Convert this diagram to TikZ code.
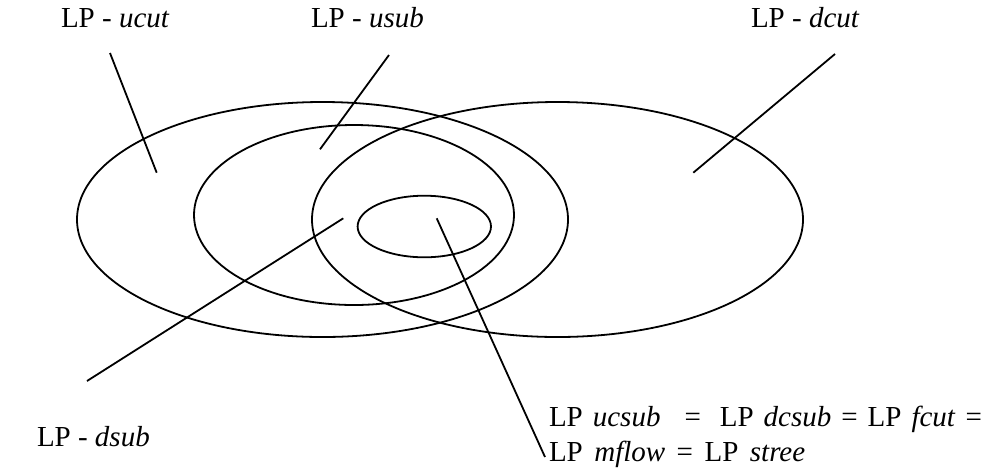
\documentclass[tikz,border=0pt]{standalone}
\usepackage{fontspec}
\setmainfont{Liberation Serif}
\begin{document}
\begin{tikzpicture}[x=1pt,y=-1pt,
  lbl/.style={font=\fontsize{29}{37}\selectfont, anchor=base west, inner sep=0pt, outer sep=0pt},
  ring/.style={draw=black, line width=1.8pt},
  ptr/.style={draw=black, line width=1.8pt}]
\useasboundingbox (0,0) rectangle (991,467);
% ellipses
\draw[ring] (322.5,219.5) ellipse [x radius=245.5, y radius=117.5];
\draw[ring] (557.5,219.5) ellipse [x radius=245.5, y radius=117.5];
\draw[ring] (354,215) ellipse [x radius=160, y radius=90];
\draw[ring] (424.3,226.5) ellipse [x radius=66.7, y radius=30.8];
% labels
\node[lbl] (ucut) at (61,27) {LP - \textit{ucut}};
\node[lbl] (usub) at (311,27) {LP - \textit{usub}};
\node[lbl] (dcut) at (751,27) {LP - \textit{dcut}};
\node[lbl] (dsub) at (37,446) {LP - \textit{dsub}};
\node[lbl] (eqa) at (549,426) {\spaceskip=10pt LP \textit{ucsub}\hspace{14pt} = \hspace{9pt}LP \textit{dcsub} = LP \textit{fcut} =};
\node[lbl] (eqb) at (549,461) {\spaceskip=11.5pt LP \textit{mflow} = LP \textit{stree}};
% pointer ends
\coordinate (ucutA) at (110,53);
\coordinate (ucutB) at (156.7,172.7);
\coordinate (usubA) at (389,55);
\coordinate (usubB) at (320,149.3);
\coordinate (dcutA) at (835,54);
\coordinate (dcutB) at (693.3,172.7);
\coordinate (dsubA) at (87,381);
\coordinate (dsubB) at (343.3,218.3);
\coordinate (eqA) at (545,457);
\coordinate (eqB) at (436.7,218.3);
\draw[ptr] (ucutA) -- (ucutB);
\draw[ptr] (usubA) -- (usubB);
\draw[ptr] (dcutA) -- (dcutB);
\draw[ptr] (dsubA) -- (dsubB);
\draw[ptr] (eqA) -- (eqB);
\end{tikzpicture}
\end{document}
